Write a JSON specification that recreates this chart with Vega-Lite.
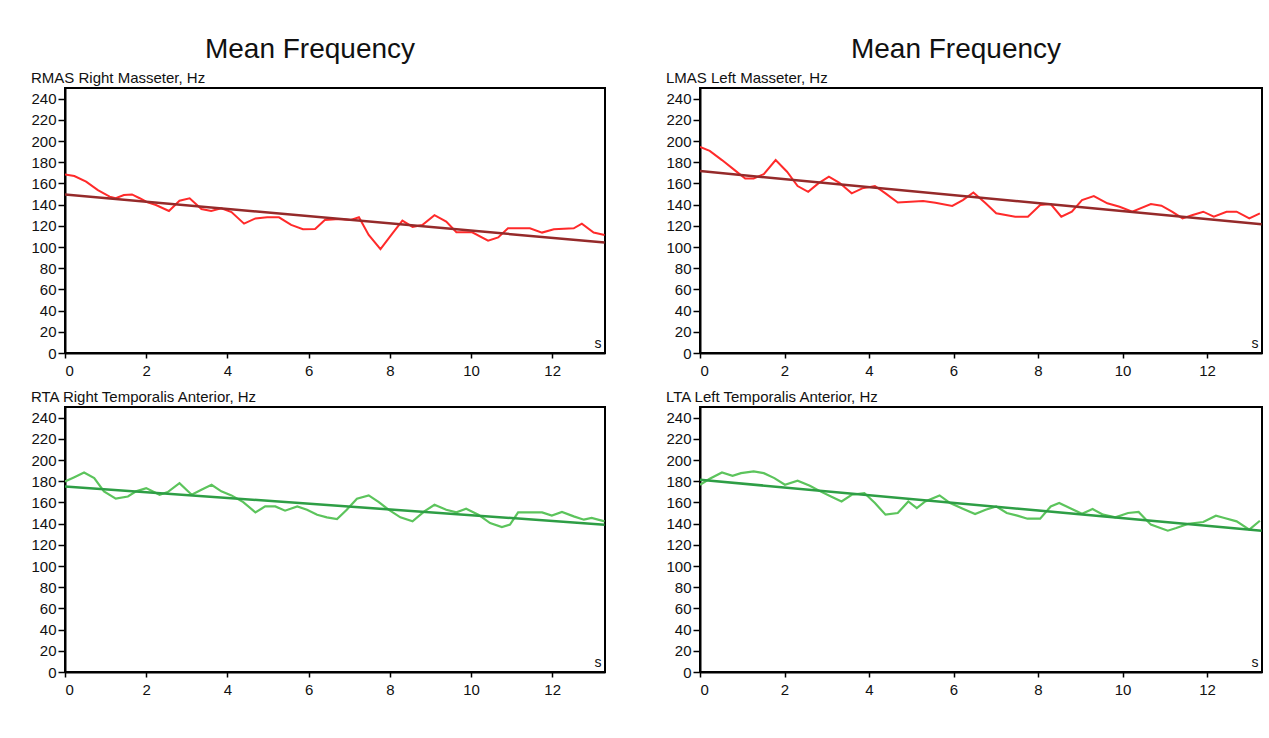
{
  "$schema": "https://vega.github.io/schema/vega-lite/v6.json",
  "background": "white",
  "padding": {"left": 29, "top": 36, "right": 5, "bottom": 5},
  "config": {
    "font": "Liberation Sans",
    "view": {"stroke": "#000", "strokeWidth": 2},
    "axis": {
      "labelFont": "Liberation Sans", "labelFontSize": 15, "labelColor": "#111",
      "domainColor": "#000", "domainWidth": 2, "tickColor": "#000", "tickWidth": 1.5,
      "grid": false, "labelPadding": 2, "labelOverlap": false
    },
    "title": {"font": "Liberation Sans"}
  },
  "datasets": {
    "rmas": [
      {"t":0,"hz":168.5},{"t":0.23,"hz":167},{"t":0.52,"hz":161.6},{"t":0.81,"hz":153.7},{"t":1.1,"hz":147.5},{"t":1.25,"hz":146},{"t":1.45,"hz":149},{"t":1.65,"hz":149.6},{"t":1.84,"hz":146},{"t":2.0,"hz":142.7},{"t":2.24,"hz":139.6},{"t":2.56,"hz":134},{"t":2.82,"hz":143.7},{"t":3.07,"hz":146},{"t":3.36,"hz":135.8},{"t":3.6,"hz":134},{"t":3.85,"hz":136.5},{"t":4.1,"hz":133},{"t":4.41,"hz":122},{"t":4.69,"hz":127},{"t":4.98,"hz":128},{"t":5.27,"hz":128},{"t":5.57,"hz":120.8},{"t":5.86,"hz":116.7},{"t":6.16,"hz":117},{"t":6.4,"hz":125.5},{"t":6.75,"hz":126.4},{"t":7.04,"hz":125.5},{"t":7.24,"hz":128},{"t":7.48,"hz":111.4},{"t":7.77,"hz":97.9},{"t":8.07,"hz":113},{"t":8.31,"hz":124.9},{"t":8.56,"hz":119},{"t":8.8,"hz":120.8},{"t":9.1,"hz":130},{"t":9.39,"hz":124},{"t":9.64,"hz":113.9},{"t":10.03,"hz":113.9},{"t":10.42,"hz":106},{"t":10.67,"hz":109},{"t":10.91,"hz":117.6},{"t":11.45,"hz":117.6},{"t":11.75,"hz":113.6},{"t":12.04,"hz":116.7},{"t":12.53,"hz":117.6},{"t":12.73,"hz":122},{"t":13.02,"hz":113.6},{"t":13.29,"hz":111.4}
    ],
    "rmas_trend": [{"t":0,"hz":149.6},{"t":13.29,"hz":104.2}],
    "lmas": [
      {"t":0,"hz":194.5},{"t":0.23,"hz":190.7},{"t":0.52,"hz":182},{"t":0.82,"hz":172.5},{"t":1.07,"hz":164.7},{"t":1.27,"hz":164.7},{"t":1.51,"hz":168.8},{"t":1.79,"hz":182},{"t":2.06,"hz":171},{"t":2.31,"hz":157.5},{"t":2.56,"hz":152},{"t":2.8,"hz":160},{"t":3.05,"hz":166.3},{"t":3.3,"hz":160.6},{"t":3.59,"hz":150.6},{"t":3.84,"hz":155.3},{"t":4.14,"hz":157.5},{"t":4.39,"hz":150.6},{"t":4.68,"hz":142},{"t":5.28,"hz":143.4},{"t":5.57,"hz":141.8},{"t":5.97,"hz":138.7},{"t":6.22,"hz":144.3},{"t":6.47,"hz":151.5},{"t":6.76,"hz":141.2},{"t":7.01,"hz":131.8},{"t":7.46,"hz":128.6},{"t":7.76,"hz":128.6},{"t":8.05,"hz":139.6},{"t":8.3,"hz":140.5},{"t":8.55,"hz":128.6},{"t":8.8,"hz":133.3},{"t":9.04,"hz":144.3},{"t":9.32,"hz":148},{"t":9.64,"hz":141.2},{"t":9.93,"hz":138},{"t":10.23,"hz":133.3},{"t":10.67,"hz":140.5},{"t":10.92,"hz":139},{"t":11.17,"hz":133.3},{"t":11.42,"hz":127},{"t":11.66,"hz":130.2},{"t":11.91,"hz":133.3},{"t":12.16,"hz":128.6},{"t":12.46,"hz":133.3},{"t":12.7,"hz":133.3},{"t":13.0,"hz":127},{"t":13.25,"hz":131.8}
    ],
    "lmas_trend": [{"t":0,"hz":171.6},{"t":13.29,"hz":121.4}],
    "rta": [
      {"t":0,"hz":179.8},{"t":0.23,"hz":183.8},{"t":0.47,"hz":188.2},{"t":0.72,"hz":182.9},{"t":0.96,"hz":170.4},{"t":1.25,"hz":163.5},{"t":1.55,"hz":165.6},{"t":1.75,"hz":170.4},{"t":2.0,"hz":173.5},{"t":2.33,"hz":167.2},{"t":2.53,"hz":169.7},{"t":2.82,"hz":178.2},{"t":3.12,"hz":167.2},{"t":3.36,"hz":171.9},{"t":3.61,"hz":176.6},{"t":3.85,"hz":170.4},{"t":4.1,"hz":166.6},{"t":4.39,"hz":160.3},{"t":4.69,"hz":150.6},{"t":4.93,"hz":156.2},{"t":5.18,"hz":156.2},{"t":5.42,"hz":152.2},{"t":5.72,"hz":156.2},{"t":5.96,"hz":153.1},{"t":6.21,"hz":148.4},{"t":6.45,"hz":145.9},{"t":6.7,"hz":144.3},{"t":6.94,"hz":153.1},{"t":7.19,"hz":163.5},{"t":7.48,"hz":166.6},{"t":7.73,"hz":160.3},{"t":7.97,"hz":153.1},{"t":8.26,"hz":145.9},{"t":8.56,"hz":142.1},{"t":8.85,"hz":151.5},{"t":9.1,"hz":157.8},{"t":9.39,"hz":153.1},{"t":9.64,"hz":150.6},{"t":9.88,"hz":154},{"t":10.18,"hz":148.4},{"t":10.47,"hz":140.5},{"t":10.76,"hz":136.8},{"t":10.96,"hz":139},{"t":11.16,"hz":150.6},{"t":11.75,"hz":150.6},{"t":11.99,"hz":147.5},{"t":12.24,"hz":151},{"t":12.53,"hz":146.8},{"t":12.78,"hz":143.7},{"t":12.97,"hz":145.3},{"t":13.29,"hz":142.1}
    ],
    "rta_trend": [{"t":0,"hz":175},{"t":13.29,"hz":139}],
    "lta": [
      {"t":0,"hz":176.6},{"t":0.23,"hz":182.3},{"t":0.52,"hz":188.2},{"t":0.77,"hz":185.1},{"t":0.97,"hz":187.6},{"t":1.27,"hz":189.2},{"t":1.51,"hz":187.6},{"t":1.76,"hz":182.9},{"t":2.01,"hz":176.6},{"t":2.31,"hz":180.4},{"t":2.6,"hz":175.7},{"t":2.85,"hz":170.4},{"t":3.1,"hz":165.6},{"t":3.35,"hz":160.9},{"t":3.59,"hz":167.2},{"t":3.89,"hz":168.8},{"t":4.14,"hz":159.4},{"t":4.39,"hz":148.4},{"t":4.68,"hz":150},{"t":4.93,"hz":160.9},{"t":5.13,"hz":154.7},{"t":5.33,"hz":160.9},{"t":5.67,"hz":166.6},{"t":5.92,"hz":159.4},{"t":6.22,"hz":154},{"t":6.51,"hz":149},{"t":6.76,"hz":153.1},{"t":7.01,"hz":156.2},{"t":7.26,"hz":150},{"t":7.51,"hz":147.5},{"t":7.75,"hz":144.6},{"t":8.05,"hz":144.6},{"t":8.3,"hz":156.2},{"t":8.5,"hz":159.4},{"t":8.75,"hz":154.7},{"t":9.04,"hz":149.3},{"t":9.29,"hz":153.7},{"t":9.54,"hz":148.4},{"t":9.83,"hz":145.9},{"t":10.13,"hz":150},{"t":10.38,"hz":151},{"t":10.67,"hz":139},{"t":11.07,"hz":133.3},{"t":11.27,"hz":135.8},{"t":11.56,"hz":139.9},{"t":11.91,"hz":141.5},{"t":12.21,"hz":147.5},{"t":12.41,"hz":145.3},{"t":12.7,"hz":142.1},{"t":13.0,"hz":134.3},{"t":13.25,"hz":142.7}
    ],
    "lta_trend": [{"t":0,"hz":181.3},{"t":13.29,"hz":133.3}]
  },
  "hconcat": [
    {
      "title": {"text": "Mean Frequency", "fontSize": 28, "fontWeight": "normal", "color": "#111", "anchor": "middle", "offset": 6, "dx": -8},
      "spacing": 10,
      "vconcat": [
        {
          "width": 540, "height": 265,
          "title": {"text": "RMAS Right Masseter, Hz", "anchor": "start", "fontSize": 15, "fontWeight": "normal", "color": "#111", "offset": 2},
          "layer": [
            {"data": {"name": "rmas"}, "mark": {"type": "line", "color": "#ff2a2a", "strokeWidth": 2, "clip": true},
             "encoding": {
               "x": {"field": "t", "type": "quantitative", "scale": {"domain": [0, 13.3], "nice": false}, "axis": {"values": [0,2,4,6,8,10,12], "tickCount": 20, "format": "d", "labelPadding": 5, "labelOverlap": false, "tickSize": 5, "title": "s", "titleFontSize": 14, "titleFontWeight": "normal", "titleColor": "#111", "titleAlign": "right", "titleBaseline": "bottom", "titleX": 536, "titleY": -3}},
               "y": {"field": "hz", "type": "quantitative", "scale": {"domain": [0, 250], "nice": false}, "axis": {"values": [0,20,40,60,80,100,120,140,160,180,200,220,240], "tickCount": 20, "format": "d", "labelOverlap": false, "tickSize": 7, "title": null}}}},
            {"data": {"name": "rmas_trend"}, "mark": {"type": "line", "color": "#952a2a", "strokeWidth": 2.5, "clip": true},
             "encoding": {"x": {"field": "t", "type": "quantitative"}, "y": {"field": "hz", "type": "quantitative"}}}
          ]
        },
        {
          "width": 540, "height": 265,
          "title": {"text": "RTA Right Temporalis Anterior, Hz", "anchor": "start", "fontSize": 15, "fontWeight": "normal", "color": "#111", "offset": 2},
          "layer": [
            {"data": {"name": "rta"}, "mark": {"type": "line", "color": "#5cc45c", "strokeWidth": 2.2, "clip": true},
             "encoding": {
               "x": {"field": "t", "type": "quantitative", "scale": {"domain": [0, 13.3], "nice": false}, "axis": {"values": [0,2,4,6,8,10,12], "tickCount": 20, "format": "d", "labelPadding": 5, "labelOverlap": false, "tickSize": 5, "title": "s", "titleFontSize": 14, "titleFontWeight": "normal", "titleColor": "#111", "titleAlign": "right", "titleBaseline": "bottom", "titleX": 536, "titleY": -3}},
               "y": {"field": "hz", "type": "quantitative", "scale": {"domain": [0, 250], "nice": false}, "axis": {"values": [0,20,40,60,80,100,120,140,160,180,200,220,240], "tickCount": 20, "format": "d", "labelOverlap": false, "tickSize": 7, "title": null}}}},
            {"data": {"name": "rta_trend"}, "mark": {"type": "line", "color": "#2e9e45", "strokeWidth": 2.5, "clip": true},
             "encoding": {"x": {"field": "t", "type": "quantitative"}, "y": {"field": "hz", "type": "quantitative"}}}
          ]
        }
      ]
    },
    {
      "title": {"text": "Mean Frequency", "fontSize": 28, "fontWeight": "normal", "color": "#111", "anchor": "middle", "offset": 6, "dx": -8},
      "spacing": 10,
      "vconcat": [
        {
          "width": 562, "height": 265,
          "title": {"text": "LMAS Left Masseter, Hz", "anchor": "start", "fontSize": 15, "fontWeight": "normal", "color": "#111", "offset": 2},
          "layer": [
            {"data": {"name": "lmas"}, "mark": {"type": "line", "color": "#ff2a2a", "strokeWidth": 2, "clip": true},
             "encoding": {
               "x": {"field": "t", "type": "quantitative", "scale": {"domain": [0, 13.3], "nice": false}, "axis": {"values": [0,2,4,6,8,10,12], "tickCount": 20, "format": "d", "labelPadding": 5, "labelOverlap": false, "tickSize": 5, "title": "s", "titleFontSize": 14, "titleFontWeight": "normal", "titleColor": "#111", "titleAlign": "right", "titleBaseline": "bottom", "titleX": 558, "titleY": -3}},
               "y": {"field": "hz", "type": "quantitative", "scale": {"domain": [0, 250], "nice": false}, "axis": {"values": [0,20,40,60,80,100,120,140,160,180,200,220,240], "tickCount": 20, "format": "d", "labelOverlap": false, "tickSize": 7, "title": null}}}},
            {"data": {"name": "lmas_trend"}, "mark": {"type": "line", "color": "#952a2a", "strokeWidth": 2.5, "clip": true},
             "encoding": {"x": {"field": "t", "type": "quantitative"}, "y": {"field": "hz", "type": "quantitative"}}}
          ]
        },
        {
          "width": 562, "height": 265,
          "title": {"text": "LTA Left Temporalis Anterior, Hz", "anchor": "start", "fontSize": 15, "fontWeight": "normal", "color": "#111", "offset": 2},
          "layer": [
            {"data": {"name": "lta"}, "mark": {"type": "line", "color": "#5cc45c", "strokeWidth": 2.2, "clip": true},
             "encoding": {
               "x": {"field": "t", "type": "quantitative", "scale": {"domain": [0, 13.3], "nice": false}, "axis": {"values": [0,2,4,6,8,10,12], "tickCount": 20, "format": "d", "labelPadding": 5, "labelOverlap": false, "tickSize": 5, "title": "s", "titleFontSize": 14, "titleFontWeight": "normal", "titleColor": "#111", "titleAlign": "right", "titleBaseline": "bottom", "titleX": 558, "titleY": -3}},
               "y": {"field": "hz", "type": "quantitative", "scale": {"domain": [0, 250], "nice": false}, "axis": {"values": [0,20,40,60,80,100,120,140,160,180,200,220,240], "tickCount": 20, "format": "d", "labelOverlap": false, "tickSize": 7, "title": null}}}},
            {"data": {"name": "lta_trend"}, "mark": {"type": "line", "color": "#2e9e45", "strokeWidth": 2.5, "clip": true},
             "encoding": {"x": {"field": "t", "type": "quantitative"}, "y": {"field": "hz", "type": "quantitative"}}}
          ]
        }
      ]
    }
  ],
  "spacing": 58
}
